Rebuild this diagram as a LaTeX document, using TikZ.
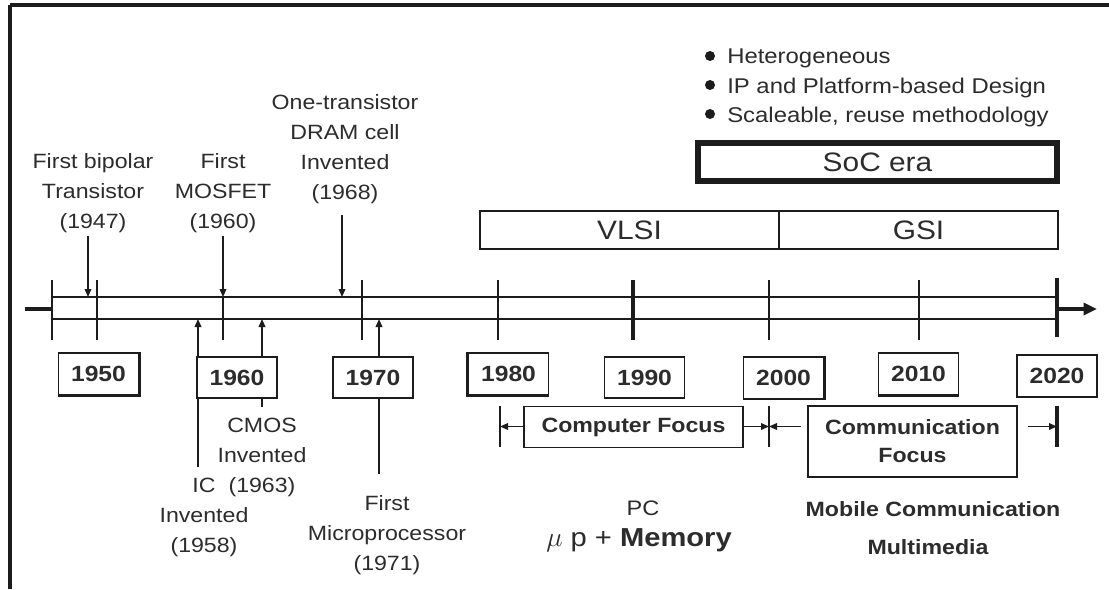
\documentclass[tikz,border=0pt]{standalone}
\usepackage{fontspec}
\setmainfont{Liberation Sans}[FakeStretch=1.12]
\usetikzlibrary{arrows.meta}
\definecolor{ink}{HTML}{1C1C1C}
\definecolor{txt}{HTML}{2C2C2C}
\begin{document}
\begin{tikzpicture}[x=0.75pt,y=-0.75pt,
  every node/.style={text=txt},
  lbl/.style={align=center,font=\fontsize{15.5}{22.5}\selectfont,inner sep=2pt},
  boldlbl/.style={align=center,font=\bfseries\fontsize{15.5}{21}\selectfont,inner sep=0pt},
  yearbox/.style={draw=ink,line width=1.3pt,fill=white,minimum width=60pt,minimum height=31pt,inner sep=0pt,font=\bfseries\fontsize{16.5}{18}\selectfont},
  focusbox/.style={draw=ink,line width=1.2pt,inner sep=0pt,align=center,font=\bfseries\fontsize{15.5}{21}\selectfont},
  erabox/.style={draw=ink,line width=1.3pt,inner sep=0pt,minimum height=28.5pt,font=\fontsize{20}{24}\selectfont},
  tl/.style={draw=ink,line width=1.4pt},
  tickline/.style={draw=ink,line width=1.4pt},
  heavytick/.style={draw=ink,line width=2.6pt},
  arr/.style={draw=ink,line width=1.1pt,-{Triangle[length=6pt,width=5pt]}},
  bul/.style={anchor=base west,inner sep=0pt,font=\fontsize{16}{20}\selectfont}
]
\useasboundingbox (0,0) rectangle (1109,589);
\fill[white] (0,0) rectangle (1109,589);
% frame
\draw[ink,line width=2.3pt] (10,5) -- (1109,5);
\draw[ink,line width=3pt] (10,5) -- (10,589);

% timeline
\draw[tl] (52,297) -- (1057,297);
\draw[tl] (52,319) -- (1057,319);
\draw[ink,line width=3pt] (25,309) -- (52,309);
\draw[ink,line width=2.4pt,-{Triangle[length=10pt,width=9pt]}] (1057,309) -- (1097,309);
\foreach \x in {52,97,362,498,769,919} \draw[tickline] (\x,280) -- (\x,340);
\draw[tickline] (223,297) -- (223,340);
\draw[heavytick] (633,280) -- (633,340);
\draw[heavytick] (1057,278) -- (1057,337);

% event points on the timeline
\coordinate (t1947) at (88,297);
\coordinate (t1960) at (223,297);
\coordinate (t1968) at (342,297);
\coordinate (t1958) at (198,319);
\coordinate (t1963) at (262,319);
\coordinate (t1971) at (379,319);

% labels
\node[lbl] (l1947) at (93,193) {First bipolar\\Transistor\\(1947)};
\node[lbl] (l1960) at (223,193) {First\\MOSFET\\(1960)};
\node[lbl] (l1968) at (345,149) {One-transistor\\DRAM cell\\Invented\\(1968)};
\node[lbl] (l1958) at (204,517) {IC\\Invented\\(1958)};
\node[lbl] (l1963) at (262,457) {CMOS\\Invented\\(1963)};
\node[lbl] (l1971) at (387,535) {First\\Microprocessor\\(1971)};

\draw[arr] (l1947.south -| t1947) -- (t1947);
\draw[arr] (l1960.south -| t1960) -- (t1960);
\draw[arr,shorten <=6pt] (l1968.south -| t1968) -- (t1968);
\draw[arr,shorten <=6pt] (l1958.north -| t1958) -- (t1958);
\draw[arr,shorten <=6pt] (l1963.north -| t1963) -- (t1963);
\draw[arr,shorten <=14pt] (l1971.north -| t1971) -- (t1971);

% year boxes
\node[yearbox] (y1950) at (98.5,374) {1950};
\node[yearbox] (y1960) at (237,377.5) {1960};
\node[yearbox] (y1970) at (373,377.5) {1970};
\node[yearbox] (y1980) at (508.5,374) {1980};
\node[yearbox] (y1990) at (644.5,377.5) {1990};
\node[yearbox] (y2000) at (783.5,378) {2000};
\node[yearbox] (y2010) at (918.5,374) {2010};
\node[yearbox] (y2020) at (1057,376) {2020};
\draw[ink,line width=2.4pt] (y1950.south west) -- (y1950.south east) -- (y1950.north east);
\draw[ink,line width=2.4pt] (y1980.north west) -- (y1980.south west) -- (y1980.south east);
\draw[ink,line width=2.2pt] (y2000.north east) -- (y2000.south east);
\draw[ink,line width=2.4pt] (y2010.south west) -- (y2010.south east);

% eras
\node[erabox,minimum width=224.25pt] (vlsi) at (629.5,230) {VLSI};
\node[erabox,minimum width=209.25pt] (gsi) at (918.5,230) {GSI};
\node[erabox,line width=4.5pt,minimum width=269.25pt] (soc) at (877.5,162) {SoC era};

% bullets
\fill[ink] (710,56) circle (5);
\fill[ink] (710,85) circle (5);
\fill[ink] (710,114) circle (5);
\node[bul] (b1) at (727,63) {Heterogeneous};
\node[bul] (b2) at (727,93) {IP and Platform-based Design};
\node[bul] (b3) at (727,122) {Scaleable, reuse methodology};

% focus brackets
\draw[tickline] (500,406) -- (500,447);
\draw[tickline] (769,406) -- (769,447);
\draw[heavytick] (1057,406) -- (1057,447);
\coordinate (f1980) at (500,426.5);
\coordinate (f2000) at (769,426.5);
\coordinate (f2020) at (1057,426.5);
\node[focusbox,minimum width=164.25pt,minimum height=30.75pt] (cf) at (633.5,427) {Computer Focus};
\node[focusbox,minimum width=156.75pt,minimum height=53.25pt] (cm) at (912.5,441.5) {Communication\\Focus};
\draw[arr] (cf.west |- f1980) -- (f1980);
\draw[arr] (cf.east |- f2000) -- (f2000);
\draw[arr] ([xshift=-4.5pt]cm.west |- f2000) -- (f2000);
\draw[arr] ([xshift=7.5pt]cm.east |- f2020) -- (f2020);

% bottom texts
\node[lbl,font=\fontsize{15.75}{20}\selectfont] (pc) at (643,508) {PC};
\node[inner sep=0pt,font=\fontsize{19.5}{22}\selectfont] (mem) at (639,540) {$\mu$ p + \textbf{Memory}};
\node[boldlbl] (mob) at (933,509) {Mobile Communication};
\node[boldlbl] (mm) at (928,547) {Multimedia};
\end{tikzpicture}
\end{document}
